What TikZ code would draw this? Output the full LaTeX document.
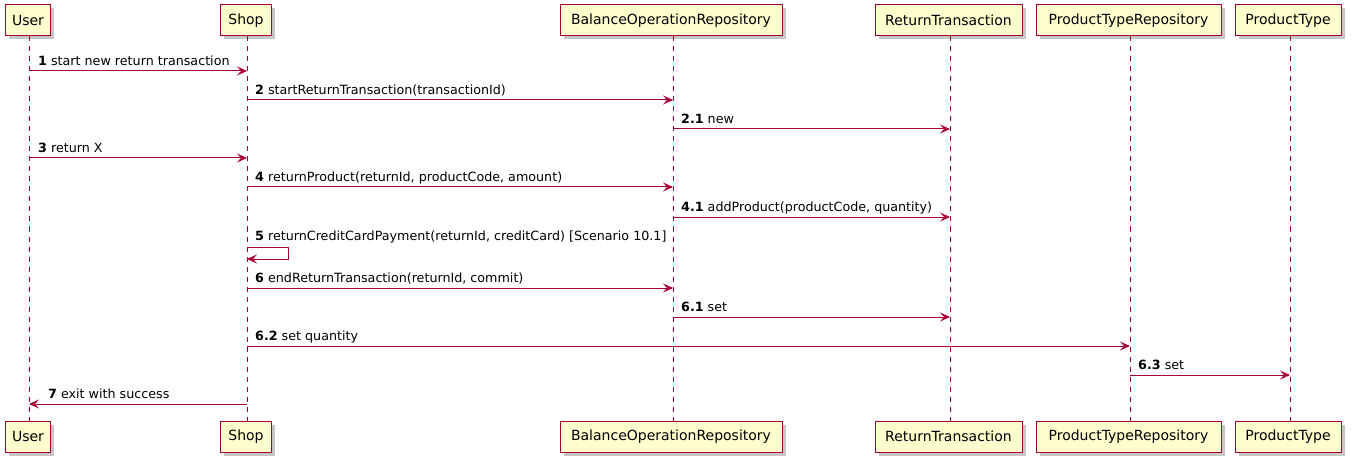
\documentclass[tikz,border=0pt]{standalone}
\usepackage{fontspec}
\setmainfont{DejaVu Sans}
\usetikzlibrary{arrows.meta,shadows}
\definecolor{pline}{HTML}{A80036}
\definecolor{pfill}{HTML}{FEFECE}
\tikzset{
  pbox/.style={draw=pline, fill=pfill, line width=1pt, minimum height=31pt, inner sep=0pt,
    font=\fontsize{14}{16}\selectfont,
    drop shadow={shadow xshift=3.5pt, shadow yshift=-3.5pt, fill=black!28, opacity=0.8}},
  life/.style={draw=pline, line width=0.8pt, dash pattern=on 5pt off 5pt},
  msg/.style={draw=pline, line width=1pt, -{Stealth[length=10pt,width=9pt,inset=4pt]}},
  lbl/.style={font=\fontsize{12.7}{15}\selectfont, inner sep=0pt, anchor=base west}
}
\begin{document}
\begin{tikzpicture}[x=1pt,y=-1pt]
\useasboundingbox (0,0) rectangle (1354,465);
% top participants
\node[pbox, minimum width=45pt]  (uT) at (28,20.5) {User};
\node[pbox, minimum width=51pt]  (sT) at (246,20.5) {Shop};
\node[pbox, minimum width=222pt] (bT) at (671,20.5) {BalanceOperationRepository};
\node[pbox, minimum width=147pt] (rT) at (948.5,20.5) {ReturnTransaction};
\node[pbox, minimum width=185pt] (pT) at (1128.5,20.5) {ProductTypeRepository};
\node[pbox, minimum width=106pt] (tT) at (1288,20.5) {ProductType};
% bottom participants
\node[pbox, minimum width=45pt]  (uB) at (28,436.5) {User};
\node[pbox, minimum width=51pt]  (sB) at (246,436.5) {Shop};
\node[pbox, minimum width=222pt] (bB) at (671,436.5) {BalanceOperationRepository};
\node[pbox, minimum width=147pt] (rB) at (948.5,436.5) {ReturnTransaction};
\node[pbox, minimum width=185pt] (pB) at (1128.5,436.5) {ProductTypeRepository};
\node[pbox, minimum width=106pt] (tB) at (1288,436.5) {ProductType};
% lifeline x positions
\coordinate (uL) at (29,0);
\coordinate (sL) at (247,0);
\coordinate (bL) at (673,0);
\coordinate (rL) at (950,0);
\coordinate (pL) at (1130,0);
\coordinate (tL) at (1290,0);
% lifelines
\draw[life] (uL |- uT.south) -- (uL |- uB.north);
\draw[life] (sL |- sT.south) -- (sL |- sB.north);
\draw[life] (bL |- bT.south) -- (bL |- bB.north);
\draw[life] (rL |- rT.south) -- (rL |- rB.north);
\draw[life] (pL |- pT.south) -- (pL |- pB.north);
\draw[life] (tL |- tT.south) -- (tL |- tB.north);
% message rows
\coordinate (m1) at (0,71);
\coordinate (m2) at (0,100);
\coordinate (m21) at (0,129);
\coordinate (m3) at (0,158);
\coordinate (m4) at (0,187);
\coordinate (m41) at (0,217);
\coordinate (m5) at (0,247);
\coordinate (m5b) at (0,259);
\coordinate (m6) at (0,288);
\coordinate (m61) at (0,317);
\coordinate (m62) at (0,346);
\coordinate (m63) at (0,375);
\coordinate (m7) at (0,404);
% messages
\draw[msg] (uL |- m1) -- (sL |- m1);
\node[lbl] (l1) at (38,65.5) {\textbf{1} start new return transaction};
\draw[msg] (sL |- m2) -- (bL |- m2);
\node[lbl] (l2) at (255,94.5) {\textbf{2} startReturnTransaction(transactionId)};
\draw[msg] (bL |- m21) -- (rL |- m21);
\node[lbl] (l21) at (681,123.5) {\textbf{2.1} new};
\draw[msg] (uL |- m3) -- (sL |- m3);
\node[lbl] (l3) at (38,152.5) {\textbf{3} return X};
\draw[msg] (sL |- m4) -- (bL |- m4);
\node[lbl] (l4) at (255,181.5) {\textbf{4} returnProduct(returnId, productCode, amount)};
\draw[msg] (bL |- m41) -- (rL |- m41);
\node[lbl] (l41) at (681,211.5) {\textbf{4.1} addProduct(productCode, quantity)};
\draw[msg] (sL |- m5) -- ([xshift=41pt]sL |- m5) -- ([xshift=41pt]sL |- m5b) -- (sL |- m5b);
\node[lbl] (l5) at (255,240.5) {\textbf{5} returnCreditCardPayment(returnId, creditCard) [Scenario 10.1]};
\draw[msg] (sL |- m6) -- (bL |- m6);
\node[lbl] (l6) at (255,282.5) {\textbf{6} endReturnTransaction(returnId, commit)};
\draw[msg] (bL |- m61) -- (rL |- m61);
\node[lbl] (l61) at (681,311.5) {\textbf{6.1} set};
\draw[msg] (sL |- m62) -- (pL |- m62);
\node[lbl] (l62) at (255,340.5) {\textbf{6.2} set quantity};
\draw[msg] (pL |- m63) -- (tL |- m63);
\node[lbl] (l63) at (1138,369.5) {\textbf{6.3} set};
\draw[msg] (sL |- m7) -- (uL |- m7);
\node[lbl] (l7) at (48,398.5) {\textbf{7} exit with success};
\end{tikzpicture}
\end{document}
